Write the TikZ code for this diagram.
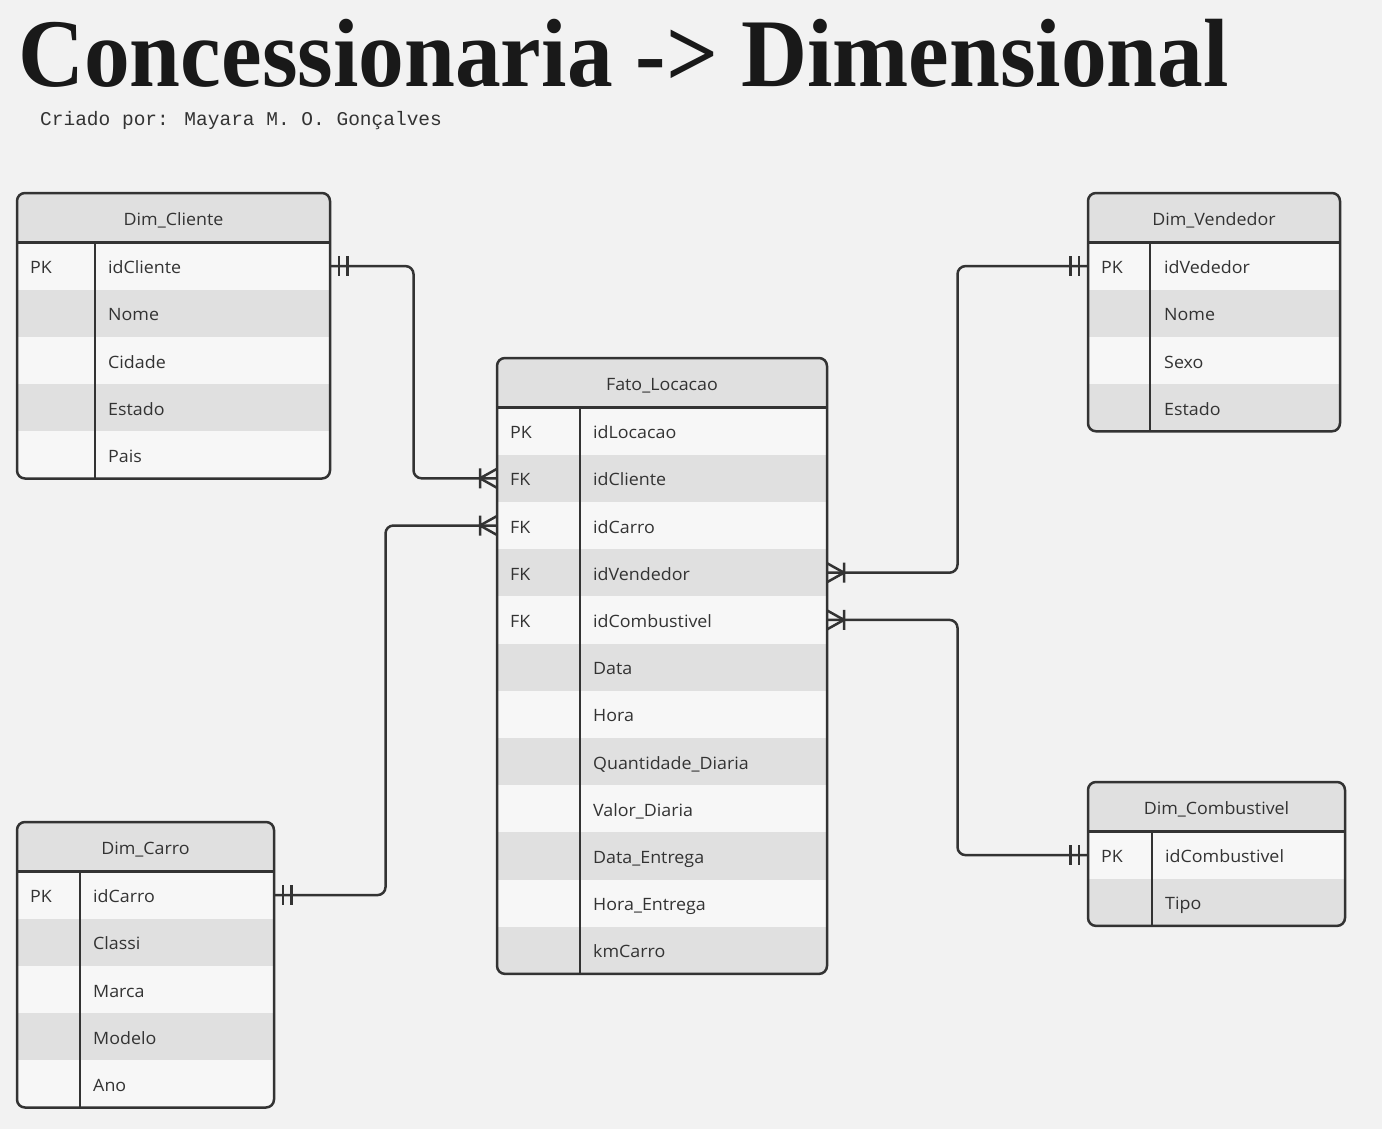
\documentclass[tikz,border=0pt]{standalone}
\usepackage{fontspec}
\setmainfont[FakeStretch=1.05]{Open Sans}
\newfontfamily\titlefont{Liberation Serif}
\newfontfamily\subfont{Liberation Mono}
\usetikzlibrary {positioning}
\usetikzlibrary {calc}
\usetikzlibrary {math}
\definecolor{bgc}{HTML}{F2F2F2}
\definecolor{row1}{HTML}{F7F7F7}
\definecolor{row0}{HTML}{E0E0E0}
\definecolor{ink}{HTML}{333333}
\tikzset{
head/.style={rectangle,anchor=north west,minimum height=49.5pt,fill=row0,inner sep=0,outer sep=0}
}
\tikzset{
row/.style={rectangle,minimum height=47.2pt,inner sep=0,outer sep=0}
}
\tikzset{
txt/.style={anchor=base west,inner sep=0,text=ink,font=\fontsize{17}{20}\selectfont}
}
\tikzset{
frame/.style={draw=ink,line width=2.5pt,rounded corners=8pt}
}
\tikzset{
conn/.style={draw=ink,line width=2.5pt,rounded corners=8pt}
}
\tikzset{
one/.pic={\draw[ink,line width=2.5pt] (-9,-10) -- (-9,10) (-17.5,-10) -- (-17.5,10);}
}
\tikzset{
many/.pic={\draw[ink,line width=2.5pt] (-17,-10) -- (-17,10) (0,-9.5) -- (-17,0) -- (0,9.5);}
}

\begin{document}
\begin{tikzpicture}[x=1pt,y=-1pt]

\fill[bgc] (0,0) rectangle (1382,1129);
\useasboundingbox (0,0) rectangle (1382,1129);

\node[anchor=base west,inner sep=0,text=black!90] (title) at (18,87) {\titlefont\bfseries\fontsize{97}{100}\selectfont\scalebox{0.943}[1]{Concessionaria -> Dimensional}};
\node[anchor=base west,inner sep=0,text=ink] (author) at (40,126) {\subfont\fontsize{19.5}{22}\selectfont Criado por: Mayara M. O. Gonçalves};
%------------------------------------------------------------------------------------------------------------%
\node[head,minimum width=313pt] (cli0) at (17,193) {};
\node[txt,anchor=base] at ([yshift=-7.5pt]cli0.center) {Dim\_Cliente};
\foreach \k/\f [count=\i] in {PK/idCliente,/Nome,/Cidade,/Estado,/Pais}
{
\tikzmath{
int \j, \m;
\j = \i-1;
\m = mod(\i,2);
}
\node[row,minimum width=313pt,fill=row\m,below=0 of cli\j] (cli\i) {};
\node[txt] at ([xshift=13pt,yshift=-7.5pt]cli\i.west) {\k};
\node[txt] at ([xshift=91pt,yshift=-7.5pt]cli\i.west) {\f};
}
\fill[bgc,even odd rule] (cli0.north west) rectangle (cli5.south east) [rounded corners=8pt] (cli0.north west) rectangle (cli5.south east);
\draw[frame] (cli0.north west) rectangle (cli5.south east);
\draw[ink,line width=2.5pt] (cli0.south west) -- (cli0.south east);
\draw[ink,line width=2pt] ([xshift=78pt]cli0.south west) -- ([xshift=78pt]cli5.south west);
%------------------------------------------------------------------------------------------------------------%
\node[head,minimum width=252pt] (ven0) at (1088,193) {};
\node[txt,anchor=base] at ([yshift=-7.5pt]ven0.center) {Dim\_Vendedor};
\foreach \k/\f [count=\i] in {PK/idVededor,/Nome,/Sexo,/Estado}
{
\tikzmath{
int \j, \m;
\j = \i-1;
\m = mod(\i,2);
}
\node[row,minimum width=252pt,fill=row\m,below=0 of ven\j] (ven\i) {};
\node[txt] at ([xshift=13pt,yshift=-7.5pt]ven\i.west) {\k};
\node[txt] at ([xshift=76pt,yshift=-7.5pt]ven\i.west) {\f};
}
\fill[bgc,even odd rule] (ven0.north west) rectangle (ven4.south east) [rounded corners=8pt] (ven0.north west) rectangle (ven4.south east);
\draw[frame] (ven0.north west) rectangle (ven4.south east);
\draw[ink,line width=2.5pt] (ven0.south west) -- (ven0.south east);
\draw[ink,line width=2pt] ([xshift=62pt]ven0.south west) -- ([xshift=62pt]ven4.south west);
%------------------------------------------------------------------------------------------------------------%
\node[head,minimum width=330pt] (fat0) at (497,358) {};
\node[txt,anchor=base] at ([yshift=-7.5pt]fat0.center) {Fato\_Locacao};
\foreach \k/\f [count=\i] in {PK/idLocacao,FK/idCliente,FK/idCarro,FK/idVendedor,FK/idCombustivel,/Data,/Hora,/Quantidade\_Diaria,/Valor\_Diaria,/Data\_Entrega,/Hora\_Entrega,/kmCarro}
{
\tikzmath{
int \j, \m;
\j = \i-1;
\m = mod(\i,2);
}
\node[row,minimum width=330pt,fill=row\m,below=0 of fat\j] (fat\i) {};
\node[txt] at ([xshift=13pt,yshift=-7.5pt]fat\i.west) {\k};
\node[txt] at ([xshift=96pt,yshift=-7.5pt]fat\i.west) {\f};
}
\fill[bgc,even odd rule] (fat0.north west) rectangle (fat12.south east) [rounded corners=8pt] (fat0.north west) rectangle (fat12.south east);
\draw[frame] (fat0.north west) rectangle (fat12.south east);
\draw[ink,line width=2.5pt] (fat0.south west) -- (fat0.south east);
\draw[ink,line width=2pt] ([xshift=83pt]fat0.south west) -- ([xshift=83pt]fat12.south west);
%------------------------------------------------------------------------------------------------------------%
\node[head,minimum width=257pt] (car0) at (17,822) {};
\node[txt,anchor=base] at ([yshift=-7.5pt]car0.center) {Dim\_Carro};
\foreach \k/\f [count=\i] in {PK/idCarro,/Classi,/Marca,/Modelo,/Ano}
{
\tikzmath{
int \j, \m;
\j = \i-1;
\m = mod(\i,2);
}
\node[row,minimum width=257pt,fill=row\m,below=0 of car\j] (car\i) {};
\node[txt] at ([xshift=13pt,yshift=-7.5pt]car\i.west) {\k};
\node[txt] at ([xshift=76pt,yshift=-7.5pt]car\i.west) {\f};
}
\fill[bgc,even odd rule] (car0.north west) rectangle (car5.south east) [rounded corners=8pt] (car0.north west) rectangle (car5.south east);
\draw[frame] (car0.north west) rectangle (car5.south east);
\draw[ink,line width=2.5pt] (car0.south west) -- (car0.south east);
\draw[ink,line width=2pt] ([xshift=63pt]car0.south west) -- ([xshift=63pt]car5.south west);
%------------------------------------------------------------------------------------------------------------%
\node[head,minimum width=257pt] (com0) at (1088,782) {};
\node[txt,anchor=base] at ([yshift=-7.5pt]com0.center) {Dim\_Combustivel};
\foreach \k/\f [count=\i] in {PK/idCombustivel,/Tipo}
{
\tikzmath{
int \j, \m;
\j = \i-1;
\m = mod(\i,2);
}
\node[row,minimum width=257pt,fill=row\m,below=0 of com\j] (com\i) {};
\node[txt] at ([xshift=13pt,yshift=-7.5pt]com\i.west) {\k};
\node[txt] at ([xshift=77pt,yshift=-7.5pt]com\i.west) {\f};
}
\fill[bgc,even odd rule] (com0.north west) rectangle (com2.south east) [rounded corners=8pt] (com0.north west) rectangle (com2.south east);
\draw[frame] (com0.north west) rectangle (com2.south east);
\draw[ink,line width=2.5pt] (com0.south west) -- (com0.south east);
\draw[ink,line width=2pt] ([xshift=64pt]com0.south west) -- ([xshift=64pt]com2.south west);
%------------------------------------------------------------------------------------------------------------%
\draw[conn] (cli1.east) -| ($(cli1.east)!0.5!(fat2.west)$) |- (fat2.west);
\pic[xscale=-1] at (cli1.east) {one};
\pic at (fat2.west) {many};
%------------------------------------------------------------------------------------------------------------%
\draw[conn] (car1.east) -| ($(car1.east)!0.5!(fat3.west)$) |- (fat3.west);
\pic[xscale=-1] at (car1.east) {one};
\pic at (fat3.west) {many};
%------------------------------------------------------------------------------------------------------------%
\draw[conn] (ven1.west) -| ($(ven1.west)!0.5!(fat4.east)$) |- (fat4.east);
\pic at (ven1.west) {one};
\pic[xscale=-1] at (fat4.east) {many};
%------------------------------------------------------------------------------------------------------------%
\draw[conn] (com1.west) -| ($(com1.west)!0.5!(fat5.east)$) |- (fat5.east);
\pic at (com1.west) {one};
\pic[xscale=-1] at (fat5.east) {many};

\end{tikzpicture}
\end{document}
